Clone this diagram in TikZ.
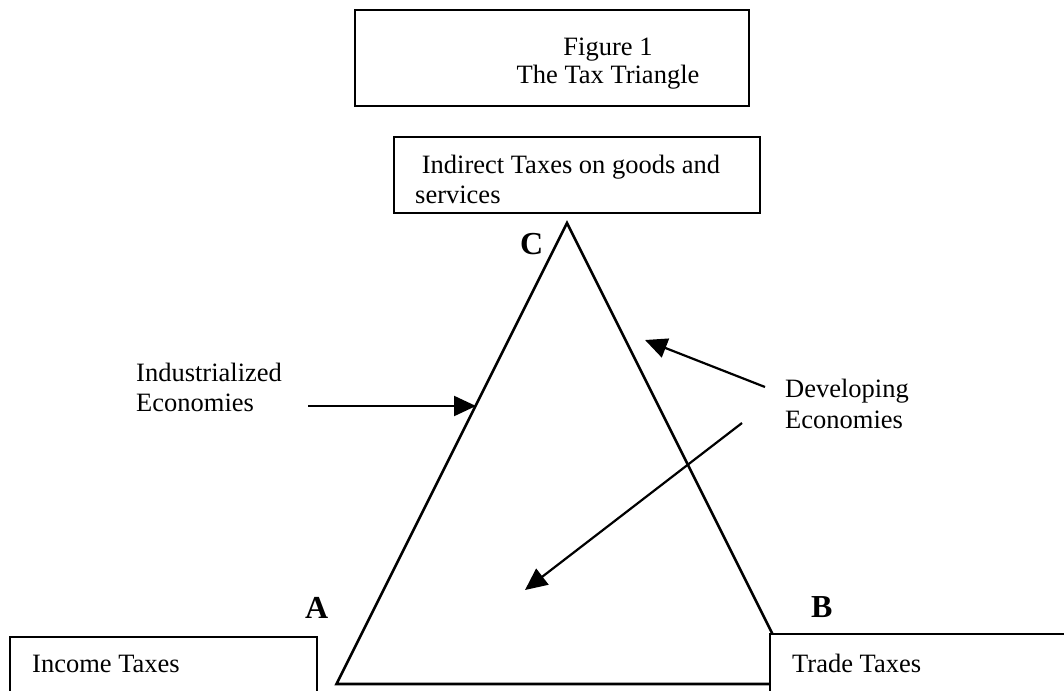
\documentclass[tikz,border=0pt]{standalone}
\usepackage{fontspec}
\setmainfont{Liberation Serif}
\usetikzlibrary{arrows.meta}
\begin{document}
\begin{tikzpicture}[x=1pt,y=-1pt,
  box/.style={draw,line width=2.6pt,fill=white,inner sep=0pt},
  lbl/.style={inner sep=0pt,anchor=base west,font=\fontsize{26.5}{30}\selectfont},
  corner/.style={inner sep=0pt,anchor=base west,font=\fontsize{32}{36}\selectfont\bfseries},
  arr/.style={line width=2.2pt,-{Triangle[length=22pt,width=20pt]}},
  tri/.style={line width=2.6pt,line join=miter}]
\useasboundingbox (0,0) rectangle (1064,690);
\clip (0,0) rectangle (1064,690);
% triangle
\coordinate (C) at (567,223);
\coordinate (A) at (336.5,684);
\coordinate (B) at (797.5,684);
\draw[tri] (A) -- (C) -- (B) -- cycle;
% arrows
\coordinate (i1) at (308,406);
\coordinate (i2) at (476,406);
\coordinate (d1s) at (765,387);
\coordinate (d1e) at (645,340);
\coordinate (d2s) at (742,423);
\coordinate (d2e) at (525,590);
\draw[arr] (i1) -- (i2);
\draw[arr] (d1s) -- (d1e);
\draw[arr] (d2s) -- (d2e);
% boxes
\node[box,minimum width=394pt,minimum height=96pt] (titlebox) at (552,58) {};
\node[box,minimum width=366pt,minimum height=76pt] (indirectbox) at (577,175) {};
\node[box,minimum width=307pt,minimum height=63pt] (incomebox) at (163.5,668.5) {};
\node[box,minimum width=305pt,minimum height=66pt] (tradebox) at (922.5,667) {};
% texts
\node[lbl,anchor=base,font=\fontsize{26.5}{28}\selectfont] (title) at (608,56)
  {\begin{tabular}[t]{@{}c@{}}Figure 1\\The Tax Triangle\end{tabular}};
\node[lbl] (indirect) at (415,173)
  {\begin{tabular}[t]{@{}l@{}}\ Indirect Taxes on goods and\\services\end{tabular}};
\node[lbl] (income) at (32,672) {Income Taxes};
\node[lbl] (trade) at (792,672) {Trade Taxes};
\node[lbl] (indus) at (136,381)
  {\begin{tabular}[t]{@{}l@{}}Industrialized\\Economies\end{tabular}};
\node[lbl,font=\fontsize{26.5}{31}\selectfont] (devel) at (785,397)
  {\begin{tabular}[t]{@{}l@{}}Developing\\Economies\end{tabular}};
\node[corner] (la) at (305,618) {A};
\node[corner] (lb) at (811,617) {B};
\node[corner] (lc) at (520,254) {C};
\end{tikzpicture}
\end{document}
